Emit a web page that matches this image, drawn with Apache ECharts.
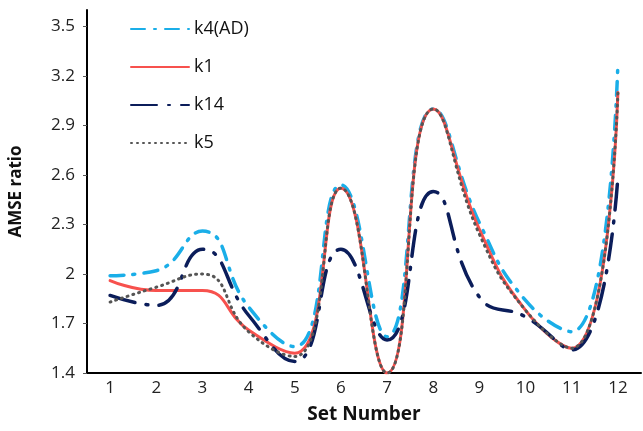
<!DOCTYPE html>
<html>
<head>
<meta charset="utf-8">
<script src="https://cdn.jsdelivr.net/npm/echarts@6/dist/echarts.min.js"></script>
<style>html,body{margin:0;padding:0;background:#fff}#c{width:643px;height:431px}</style>
</head>
<body>
<div id="c"></div>
<script>
var categories = ['1','2','3','4','5','6','7','8','9','10','11','12'];
var k4AD = [1.99, 2.02, 2.26, 1.80, 1.56, 2.54, 1.62, 3.00, 2.31, 1.84, 1.65, 3.28];
var k1   = [1.96, 1.90, 1.90, 1.66, 1.52, 2.52, 1.40, 3.00, 2.27, 1.78, 1.55, 3.10];
var k14  = [1.87, 1.81, 2.15, 1.75, 1.47, 2.15, 1.60, 2.50, 1.86, 1.74, 1.54, 2.59];
var k5   = [1.83, 1.92, 2.00, 1.65, 1.50, 2.52, 1.40, 3.00, 2.24, 1.78, 1.55, 3.10];
var yTicks = {min: 1.4, max: 3.6, interval: 0.3};

var font = 'Open Sans';
var chart = echarts.init(document.getElementById('c'));
function mk(name, data, color, width, type) {
  return {
    name: name, type: 'line', data: data, smooth: 0.5, symbol: 'none',
    lineStyle: {color: color, width: width, type: type, cap: 'round'},
    itemStyle: {color: color}
  };
}
chart.setOption({
  animation: false,
  grid: {left: 86, right: 2, top: 10, bottom: 58, containLabel: false},
  legend: {
    orient: 'vertical', left: 125, top: 15, itemWidth: 58, itemHeight: 12, itemGap: 20,
    itemStyle: {opacity: 0},
    textStyle: {fontFamily: font, fontSize: 18, color: '#111'},
    data: ['k4(AD)', 'k1', 'k14', 'k5']
  },
  xAxis: {
    type: 'category', data: categories, boundaryGap: true,
    axisLine: {lineStyle: {color: '#000', width: 2}},
    axisTick: {show: false},
    axisLabel: {fontFamily: font, fontSize: 17, color: '#222', margin: 7},
    name: 'Set Number', nameLocation: 'middle', nameGap: 32,
    nameTextStyle: {fontFamily: font, fontSize: 19, fontWeight: 'bold', color: '#111'}
  },
  yAxis: {
    type: 'value', min: yTicks.min, max: yTicks.max, interval: yTicks.interval,
    splitLine: {show: false},
    axisLine: {show: true, lineStyle: {color: '#000', width: 2}},
    axisTick: {show: true, length: 4, lineStyle: {color: '#555'}},
    axisLabel: {fontFamily: font, fontSize: 17, color: '#222', margin: 12, showMaxLabel: false},
    name: 'AMSE ratio', nameLocation: 'middle', nameGap: 62, nameRotate: 90,
    nameTextStyle: {fontFamily: font, fontSize: 17, fontWeight: 'bold', color: '#111'}
  },
  series: [
    mk('k4(AD)', k4AD, '#1aaee8', 3.5, [14, 9, 2, 9]),
    mk('k1', k1, '#f7514d', 3, 'solid'),
    mk('k14', k14, '#0b1d5a', 3.5, [26, 11, 2, 11]),
    mk('k5', k5, '#555555', 3, [1, 5])
  ]
});
</script>
</body>
</html>
